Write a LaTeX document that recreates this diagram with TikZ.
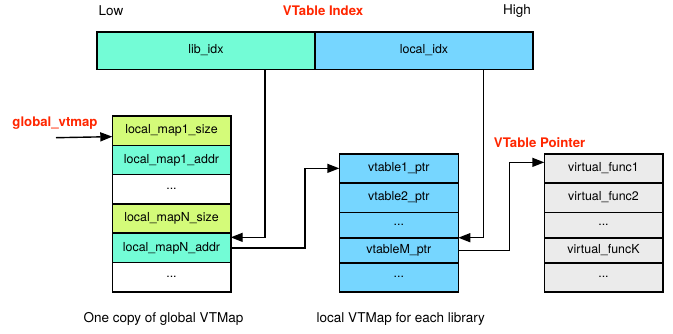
\documentclass[tikz,border=0pt]{standalone}
\usepackage{fontspec}
\setmainfont{TeX Gyre Heros}
\usetikzlibrary{positioning,arrows.meta}
\definecolor{spindrift}{HTML}{73FCD6}
\definecolor{sky}{HTML}{76D6FF}
\definecolor{honeydew}{HTML}{D4FB79}
\definecolor{mercury}{HTML}{EBEBEB}
\definecolor{maraschino}{HTML}{FF2600}

\begin{document}
\begin{tikzpicture}[x=1pt,y=-1pt,
    cell/.style={draw,line width=1.6pt,inner sep=0pt,outer sep=0pt,minimum width=118.4pt,minimum height=29.3pt,font=\fontsize{12.4}{14}\selectfont},
    idx/.style={cell,minimum width=218pt,minimum height=37.6pt},
    tag/.style={font=\fontsize{13.2}{15}\selectfont\bfseries,text=maraschino},
    note/.style={font=\fontsize{13.5}{16}\selectfont},
    ptr/.style={line width=1.4pt,-{Triangle[length=12pt,width=9pt]}}]
    \useasboundingbox (0,0) rectangle (673,333);

    \node[note] (low) at (111,11) {Low};
    \node[tag] (vtidx) at (323,11) {VTable Index};
    \node[note] (high) at (517,11) {High};
    \node[idx,fill=spindrift] (libidx) at (206,50.5) {lib\_idx};
    \node[idx,fill=sky,right=0pt of libidx] (localidx) {local\_idx};

    \node[cell,fill=honeydew] (map1size) at (171.5,130.65) {local\_map1\_size};
    \node[cell,fill=spindrift,below=0pt of map1size] (map1addr) {local\_map1\_addr};
    \node[cell,fill=white,below=0pt of map1addr] (mapdots) {...};
    \node[cell,fill=honeydew,below=0pt of mapdots] (mapNsize) {local\_mapN\_size};
    \node[cell,fill=spindrift,below=0pt of mapNsize] (mapNaddr) {local\_mapN\_addr};
    \node[cell,fill=white,below=0pt of mapNaddr] (mapend) {...};

    \node[cell,fill=sky,minimum width=119pt,minimum height=28.7pt] (vtable1) at (398.8,168.35) {vtable1\_ptr};
    \node[cell,fill=sky,minimum width=119pt,minimum height=29.6pt,below=0pt of vtable1] (vtable2) {vtable2\_ptr};
    \node[cell,fill=sky,minimum width=119pt,minimum height=25.4pt,below=0pt of vtable2] (vtdots) {...};
    \node[cell,fill=sky,minimum width=119pt,minimum height=25pt,below=0pt of vtdots] (vtableM) {vtableM\_ptr};
    \node[cell,fill=sky,minimum width=119pt,minimum height=29pt,below=0pt of vtableM] (vtend) {...};

    \node[cell,fill=mercury,minimum height=28.7pt] (vfunc1) at (603.5,168.35) {virtual\_func1};
    \node[cell,fill=mercury,minimum height=29.6pt,below=0pt of vfunc1] (vfunc2) {virtual\_func2};
    \node[cell,fill=mercury,minimum height=25.4pt,below=0pt of vfunc2] (vfdots) {...};
    \node[cell,fill=mercury,minimum height=25pt,below=0pt of vfdots] (vfuncK) {virtual\_funcK};
    \node[cell,fill=mercury,minimum height=29pt,below=0pt of vfuncK] (vfend) {...};

    \node[tag] (gvtmap) at (55,123) {global\_vtmap};
    \coordinate (gstart) at (56,137.7);
    \draw[ptr] (gstart) -- ([yshift=-6pt]map1size.west);
    \node[tag] (vtptr) at (539.5,142.7) {VTable Pointer};

    \draw[ptr] ([xshift=59pt]libidx.south) |- ([yshift=10.5pt]mapNaddr.east);
    \draw[ptr] ([xshift=59.3pt]localidx.south) |- ([yshift=12.5pt]vtableM.east);
    \draw[ptr] (mapNaddr.east) -- ++(74.3pt,0pt) |- (vtable1.west);
    \draw[ptr] (vtableM.east) -- ++(51pt,0pt) |- ([yshift=6pt]vfunc1.west);

    \node[note] (gcap) at (163.5,319.3) {One copy of global VTMap};
    \node[note] (lcap) at (400.8,319.3) {local VTMap for each library};
\end{tikzpicture}
\end{document}
